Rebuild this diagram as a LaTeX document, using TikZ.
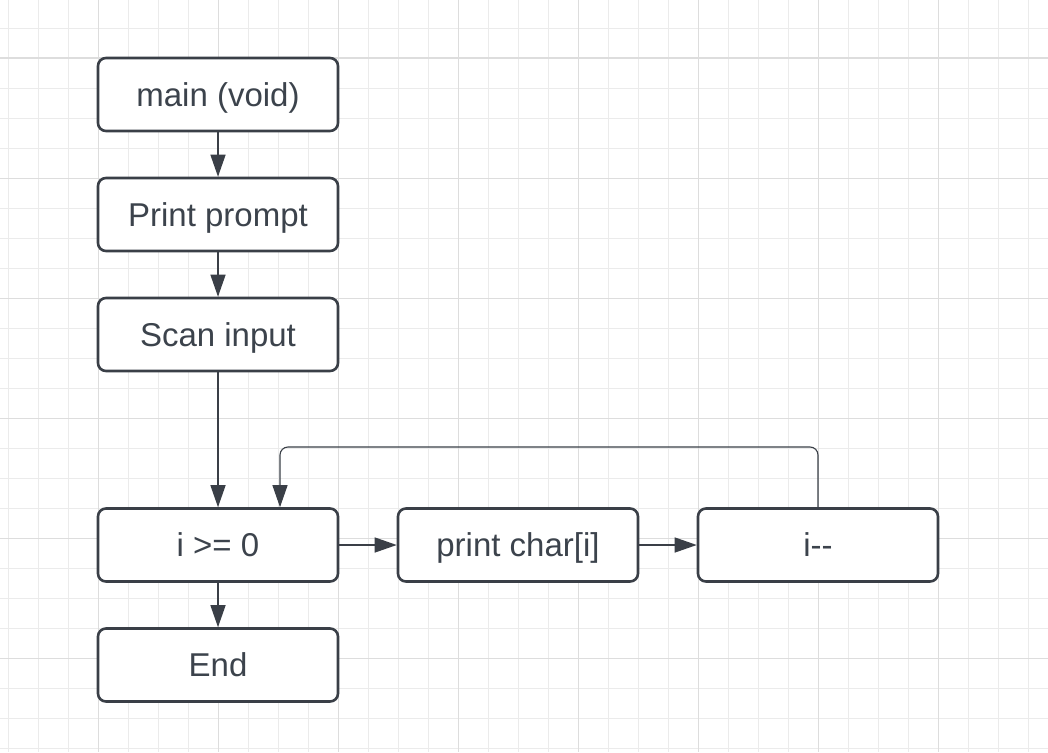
\documentclass[tikz,border=0pt]{standalone}
\usepackage{fontspec}
\setmainfont[Ligatures=NoCommon]{Liberation Sans}
\usetikzlibrary{arrows.meta}
\definecolor{ink}{HTML}{3A3F47}
\definecolor{txt}{HTML}{3C434C}
\definecolor{gridminor}{HTML}{EBEBEB}
\definecolor{gridmajor}{HTML}{DDDDDD}
\begin{document}
\begin{tikzpicture}[x=1pt,y=-1pt,
  box/.style={draw=ink, line width=2.6pt, rounded corners=8pt, fill=white,
    minimum width=240pt, minimum height=73pt, inner sep=0pt,
    text height=23.6pt, text depth=0pt,
    text=txt, font=\fontsize{33}{38}\selectfont},
  conn/.style={draw=ink, line width=1.4pt, -{Triangle[length=22pt,width=15pt]}},
  loopconn/.style={draw=ink, line width=1.1pt, rounded corners=8pt, -{Triangle[length=22pt,width=15pt]}}]
\useasboundingbox (0,0) rectangle (1048,752);
\fill[white] (0,0) rectangle (1048,752);
% grid
\foreach \x in {8,38,...,1040} \draw[gridminor, line width=0.8pt] (\x,0) -- (\x,752);
\foreach \y in {28,58,...,752} \draw[gridminor, line width=0.8pt] (0,\y) -- (1048,\y);
\foreach \x in {98,218,...,1040} \draw[gridmajor, line width=1pt] (\x,0) -- (\x,752);
\foreach \y in {58,178,...,752} \draw[gridmajor, line width=1pt] (0,\y) -- (1048,\y);
% nodes
\node[box] (main) at (218,94.5) {main (void)};
\node[box] (prompt) at (218,214.5) {Print prompt};
\node[box] (scan) at (218,334.5) {Scan input};
\node[box] (cond) at (218,545) {i >= 0};
\node[box] (end) at (218,665) {End};
\node[box] (pc) at (518,545) {print char[i]};
\node[box] (dec) at (818,545) {i-{}-};
\coordinate (lp) at (280,447);
% connectors
\draw[conn] (main) -- (prompt);
\draw[conn] (prompt) -- (scan);
\draw[conn] (scan) -- (cond);
\draw[conn] (cond) -- (end);
\draw[conn] (cond) -- (pc);
\draw[conn] (pc) -- (dec);
\draw[loopconn] (dec.north) -- (dec.north |- lp) -- (lp) -- (cond.north -| lp);
\end{tikzpicture}
\end{document}
